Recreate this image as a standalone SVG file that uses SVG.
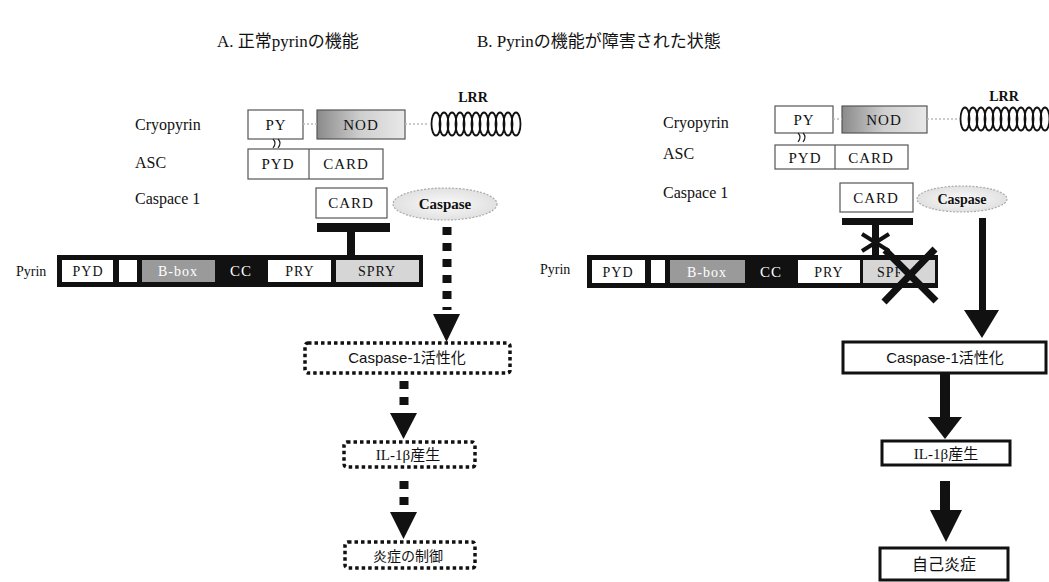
<svg xmlns="http://www.w3.org/2000/svg" width="1049" height="582" viewBox="0 0 1049 582">
<defs>
<style>
.t{font-family:"Liberation Serif","Noto Sans CJK JP",serif;fill:#111}
.lab{font-size:16px}
.bx{font-size:15px;text-anchor:middle;letter-spacing:1px}
.title{font-size:17px}
.jp{font-family:"Liberation Sans","Noto Sans CJK JP",sans-serif;font-size:14px;text-anchor:middle;fill:#111}
.thin{fill:#fff;stroke:#555;stroke-width:1.2}
.dot{fill:#fff;stroke:#111;stroke-width:3.5;stroke-dasharray:3.5 3}
.solid{fill:#fff;stroke:#111;stroke-width:3}
.dash{stroke:#111;stroke-width:9;stroke-dasharray:8 8;fill:none}
.faint{stroke:#bbb;stroke-width:1.5;stroke-dasharray:2 2;fill:none}
.coil{fill:none;stroke:#111;stroke-width:1.8}
.blk{fill:#111}
</style>
<linearGradient id="nod" x1="0" y1="0" x2="1" y2="0">
<stop offset="0" stop-color="#8a8a8a"/><stop offset="0.5" stop-color="#cfcfcf"/><stop offset="1" stop-color="#e8e8e8"/>
</linearGradient>
<radialGradient id="ell" cx="0.5" cy="0.5" r="0.6">
<stop offset="0" stop-color="#fafafa"/><stop offset="1" stop-color="#dcdcdc"/>
</radialGradient>
<g id="coils">
<ellipse cx="4" cy="0" rx="4.5" ry="11.5" class="coil"/>
<ellipse cx="12" cy="0" rx="4.5" ry="11.5" class="coil"/>
<ellipse cx="20" cy="0" rx="4.5" ry="11.5" class="coil"/>
<ellipse cx="28" cy="0" rx="4.5" ry="11.5" class="coil"/>
<ellipse cx="36" cy="0" rx="4.5" ry="11.5" class="coil"/>
<ellipse cx="44" cy="0" rx="4.5" ry="11.5" class="coil"/>
<ellipse cx="52" cy="0" rx="4.5" ry="11.5" class="coil"/>
<ellipse cx="60" cy="0" rx="4.5" ry="11.5" class="coil"/>
<ellipse cx="68" cy="0" rx="4.5" ry="11.5" class="coil"/>
<ellipse cx="76" cy="0" rx="4.5" ry="11.5" class="coil"/>
<ellipse cx="84" cy="0" rx="4.5" ry="11.5" class="coil"/>
</g>
<clipPath id="spclip"><rect x="863" y="258" width="37" height="28"/></clipPath>
</defs>

<!-- Titles -->
<text class="t title" x="217" y="47">A. 正常pyrinの機能</text>
<text class="t title" x="477" y="47">B. Pyrinの機能が障害された状態</text>

<!-- ===== Panel A ===== -->
<g id="A-labels">
<text class="t lab" x="135" y="130">Cryopyrin</text>
<text class="t lab" x="135" y="168">ASC</text>
<text class="t lab" x="135" y="204">Caspace 1</text>
<text class="t lab" x="16" y="276" style="font-size:14px">Pyrin</text>
</g>
<g id="A-cryopyrin">
<rect class="thin" x="248" y="110" width="55" height="29"/>
<text class="t bx" x="276" y="130">PY</text>
<rect x="317" y="110" width="88" height="29" fill="url(#nod)" stroke="#555" stroke-width="1.2"/>
<text class="t bx" x="361" y="130">NOD</text>
<text class="t" x="473" y="102" style="font-size:14px;font-weight:bold;text-anchor:middle">LRR</text>
<use href="#coils" x="432" y="124"/>
</g>
<g id="A-asc">
<rect class="thin" x="248" y="149" width="135" height="30"/>
<line x1="309" y1="149" x2="309" y2="179" stroke="#555" stroke-width="1.2"/>
<text class="t bx" x="278" y="169">PYD</text>
<text class="t bx" x="346" y="169">CARD</text>
</g>
<g id="A-casp1">
<rect class="thin" x="316" y="188" width="71" height="30"/>
<text class="t bx" x="351" y="208">CARD</text>
<ellipse cx="445" cy="204" rx="52" ry="16" fill="url(#ell)" stroke="#aaa" stroke-width="1.2" stroke-dasharray="2 1.5"/>
<text class="t" x="445" y="209" style="font-size:15px;font-weight:bold;text-anchor:middle">Caspase</text>
</g>
<g id="A-pyrin">
<rect class="blk" x="57" y="255" width="366" height="32"/>
<rect x="62" y="260" width="51" height="22" fill="#fff"/>
<rect x="119" y="260" width="18" height="22" fill="#fff"/>
<rect x="142" y="260" width="73" height="22" fill="#9a9a9a"/>
<rect x="268" y="260" width="63" height="22" fill="#fff"/>
<rect x="336" y="260" width="83" height="22" fill="#d6d6d6"/>
<text class="t bx" x="88" y="276" style="font-size:14px">PYD</text>
<text class="t bx" x="178" y="276" style="font-size:14px;fill:#fff">B-box</text>
<text class="t bx" x="241" y="276" style="fill:#fff">CC</text>
<text class="t bx" x="300" y="276" style="font-size:14px">PRY</text>
<text class="t bx" x="377" y="276" style="font-size:14px">SPRY</text>
</g>
<g id="A-act">
<rect class="dot" x="305" y="343" width="205" height="30" rx="3"/>
<text class="jp" x="407" y="363" style="font-size:15px">Caspase-1活性化</text>
</g>
<g id="A-il">
<rect class="dot" x="344" y="442" width="131" height="25" rx="3"/>
<text class="t" x="408" y="460" style="font-size:15px;text-anchor:middle">IL-1β産生</text>
</g>
<g id="A-ctrl">
<rect class="dot" x="345" y="542" width="130" height="26" rx="3"/>
<text class="jp" x="408" y="561">炎症の制御</text>
</g>

<!-- ===== Panel B ===== -->
<g id="B-labels">
<text class="t lab" x="663" y="128">Cryopyrin</text>
<text class="t lab" x="663" y="159">ASC</text>
<text class="t lab" x="663" y="198">Caspace 1</text>
<text class="t lab" x="540" y="274" style="font-size:14px">Pyrin</text>
</g>
<g id="B-cryopyrin">
<rect class="thin" x="775" y="106" width="58" height="27"/>
<text class="t bx" x="804" y="125">PY</text>
<rect x="842" y="106" width="85" height="27" fill="url(#nod)" stroke="#555" stroke-width="1.2"/>
<text class="t bx" x="884" y="125">NOD</text>
<text class="t" x="1004" y="101" style="font-size:14px;font-weight:bold;text-anchor:middle">LRR</text>
<use href="#coils" x="961" y="119"/>
</g>
<g id="B-asc">
<rect class="thin" x="775" y="145" width="133" height="24"/>
<line x1="835" y1="145" x2="835" y2="169" stroke="#555" stroke-width="1.2"/>
<text class="t bx" x="805" y="163">PYD</text>
<text class="t bx" x="871" y="163">CARD</text>
</g>
<g id="B-casp1">
<rect class="thin" x="840" y="183" width="73" height="29"/>
<text class="t bx" x="876" y="203">CARD</text>
<ellipse cx="962" cy="199" rx="45" ry="13" fill="url(#ell)" stroke="#aaa" stroke-width="1.2" stroke-dasharray="2 1.5"/>
<text class="t" x="962" y="204" style="font-size:14px;font-weight:bold;text-anchor:middle">Caspase</text>
</g>
<g id="B-pyrin">
<rect class="blk" x="587" y="255" width="351" height="33"/>
<rect x="592" y="260" width="53" height="23" fill="#fff"/>
<rect x="651" y="260" width="14" height="23" fill="#fff"/>
<rect x="670" y="260" width="75" height="23" fill="#9a9a9a"/>
<rect x="798" y="260" width="62" height="23" fill="#fff"/>
<rect x="863" y="260" width="72" height="23" fill="#d6d6d6"/>
<text class="t bx" x="618" y="277" style="font-size:14px">PYD</text>
<text class="t bx" x="707" y="277" style="font-size:14px;fill:#fff">B-box</text>
<text class="t bx" x="771" y="277" style="fill:#fff">CC</text>
<text class="t bx" x="829" y="277" style="font-size:14px">PRY</text>
<text class="t bx" x="896" y="277" style="font-size:14px" clip-path="url(#spclip)">SPRY</text>
</g>
<g id="B-act">
<rect class="solid" x="843" y="342" width="203" height="31"/>
<text class="jp" x="945" y="363" style="font-size:15px">Caspase-1活性化</text>
</g>
<g id="B-il">
<rect class="solid" x="882" y="441" width="128" height="24"/>
<text class="t" x="946" y="459" style="font-size:15px;text-anchor:middle">IL-1β産生</text>
</g>
<g id="B-auto">
<rect class="solid" x="880" y="548" width="128" height="32"/>
<text class="jp" x="944" y="570" style="font-size:16px">自己炎症</text>
</g>

<!-- ===== Connectors ===== -->
<g id="connectors">
<!-- A -->
<line class="faint" x1="303" y1="124" x2="317" y2="124"/>
<line class="faint" x1="405" y1="124" x2="428" y2="124"/>
<path d="M273,139 q4,4 0,9 M278,139 q4,4 0,9" fill="none" stroke="#222" stroke-width="1.2"/>
<rect class="blk" x="317" y="223" width="73" height="9"/>
<rect class="blk" x="347" y="232" width="8" height="23"/>
<line class="dash" x1="447" y1="227" x2="447" y2="310"/>
<polygon class="blk" points="433,314 460,314 446.5,342"/>
<line class="dash" x1="404" y1="381" x2="404" y2="410"/>
<polygon class="blk" points="390,413 417,413 403.5,439"/>
<line class="dash" x1="404" y1="481" x2="404" y2="509"/>
<polygon class="blk" points="390,512 417,512 403.5,539"/>
<!-- B -->
<line class="faint" x1="833" y1="119" x2="842" y2="119"/>
<line class="faint" x1="927" y1="119" x2="957" y2="119"/>
<path d="M798,133 q4,4 0,9 M803,133 q4,4 0,9" fill="none" stroke="#222" stroke-width="1.2"/>
<rect class="blk" x="842" y="218" width="71" height="7"/>
<rect class="blk" x="872" y="225" width="7" height="30"/>
<g stroke="#111" stroke-width="4">
<line x1="862" y1="234" x2="889" y2="251"/>
<line x1="862" y1="251" x2="889" y2="234"/>
</g>
<g stroke="#111" stroke-width="7" stroke-linecap="butt">
<line x1="885" y1="250" x2="936" y2="301"/>
<line x1="935" y1="249" x2="884" y2="302"/>
</g>
<rect class="blk" x="979" y="218" width="7" height="94"/>
<polygon class="blk" points="964,310 999,310 982,338"/>
<rect class="blk" x="940" y="373" width="10" height="45"/>
<polygon class="blk" points="928,417 962,417 945,439"/>
<rect class="blk" x="940" y="481" width="10" height="30"/>
<polygon class="blk" points="930,510 962,510 946,542"/>
</g>
</svg>
